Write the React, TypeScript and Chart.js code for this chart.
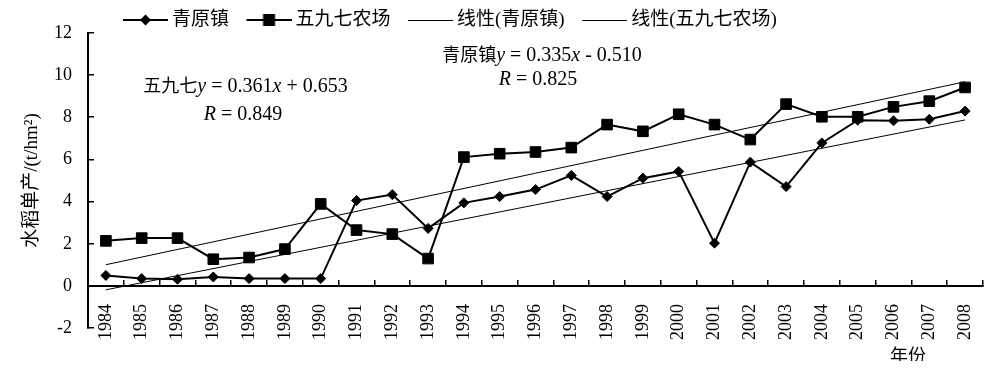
import React, { useEffect, useRef } from 'react';
import { Chart, registerables } from 'chart.js';

Chart.register(...registerables);

// ---- data ----
const years = ['1984', '1985', '1986', '1987', '1988', '1989', '1990', '1991', '1992', '1993', '1994', '1995', '1996', '1997', '1998', '1999', '2000', '2001', '2002', '2003', '2004', '2005', '2006', '2007', '2008'];
const qingyuan = [0.5, 0.35, 0.32, 0.43, 0.35, 0.35, 0.35, 4.05, 4.33, 2.73, 3.94, 4.24, 4.57, 5.24, 4.24, 5.11, 5.43, 2.03, 5.87, 4.71, 6.78, 7.86, 7.83, 7.9, 8.29];
const wujiuqi = [2.14, 2.27, 2.27, 1.27, 1.35, 1.75, 3.89, 2.65, 2.46, 1.3, 6.11, 6.27, 6.35, 6.56, 7.65, 7.33, 8.14, 7.65, 6.94, 8.62, 8.02, 8.02, 8.49, 8.76, 9.41];
// trend line end values (at first and last year)
const trendYears = ['1984', '2008'];
const trendQingyuan = [-0.18, 7.87];
const trendWujiuqi = [1.01, 9.68];
const seriesLabels = ['青原镇', '五九七农场', '线性(青原镇)', '线性(五九七农场)'];
const yTicks = { min: -2, max: 12, step: 2 };
const yTitle = '水稻单产/(t/hm²)';
const xTitle = '年份';
const eqWujiuqi = ['五九七', 'y', ' = 0.361', 'x', ' + 0.653'];
const rWujiuqi = ['R', ' = 0.849'];
const eqQingyuan = ['青原镇', 'y', ' = 0.335', 'x', ' - 0.510'];
const rQingyuan = ['R', ' = 0.825'];

const SERIF = "'Liberation Serif', 'Noto Sans CJK SC', serif";
const CJK = "'Noto Sans CJK SC', sans-serif";

function makeIcon(kind: string): HTMLCanvasElement {
  const c = document.createElement('canvas');
  c.width = 66;
  c.height = 20;
  const g = c.getContext('2d')!;
  g.strokeStyle = '#000';
  g.fillStyle = '#000';
  g.lineWidth = kind === 'line' ? 1 : 2;
  const y = kind === 'line' ? 10.5 : 10;
  g.beginPath();
  g.moveTo(21, y);
  g.lineTo(66, y);
  g.stroke();
  const cx = 43.5;
  if (kind === 'diamond') {
    g.beginPath();
    g.moveTo(cx - 5.5, 10);
    g.lineTo(cx, 4.5);
    g.lineTo(cx + 5.5, 10);
    g.lineTo(cx, 15.5);
    g.closePath();
    g.fill();
  } else if (kind === 'square') {
    g.fillRect(cx - 6, 4, 12, 12);
  }
  return c;
}

function drawRich(ctx: CanvasRenderingContext2D, parts: string[], fonts: string[], cx: number, baseline: number) {
  let total = 0;
  const widths: number[] = [];
  parts.forEach((p, i) => {
    ctx.font = fonts[i];
    const w = ctx.measureText(p).width;
    widths.push(w);
    total += w;
  });
  let x = cx - total / 2;
  ctx.textAlign = 'left';
  ctx.textBaseline = 'alphabetic';
  parts.forEach((p, i) => {
    ctx.font = fonts[i];
    ctx.fillText(p, x, baseline);
    x += widths[i];
  });
}

const textPlugin = {
  id: 'annotText',
  afterDraw(chart: any) {
    const ctx: CanvasRenderingContext2D = chart.ctx;
    ctx.save();
    ctx.fillStyle = '#000';
    const cjk = `18px ${CJK}`;
    const it = `italic 20px 'Liberation Serif', serif`;
    const rm = `20px 'Liberation Serif', serif`;
    const eqFonts = [cjk, it, rm, it, rm];
    drawRich(ctx, eqWujiuqi, eqFonts, 237.5, 92);
    drawRich(ctx, rWujiuqi, [it, rm], 235, 120);
    drawRich(ctx, eqQingyuan, eqFonts, 534, 61);
    drawRich(ctx, rQingyuan, [it, rm], 530, 85);
    ctx.font = `18px ${CJK}`;
    ctx.textAlign = 'center';
    ctx.textBaseline = 'middle';
    ctx.fillText(xTitle, 900, 355);
    ctx.restore();
  },
};

const legendShift = {
  id: 'legendShift',
  afterLayout(chart: any) {
    const lg = chart.legend;
    if (!lg) return;
    const dx = 97.5 - lg.left;
    lg.left += dx;
    lg.right += dx;
    const dy = 8.5 - lg.top;
    lg.top += dy;
    lg.bottom += dy;
  },
};

export default function App() {
  const ref = useRef<HTMLCanvasElement>(null);

  useEffect(() => {
    const icons = [makeIcon('diamond'), makeIcon('square'), makeIcon('line'), makeIcon('line')];
    const chart = new Chart(ref.current!, {
      type: 'line',
      data: {
        labels: years,
        datasets: [
          {
            label: seriesLabels[0],
            data: qingyuan,
            borderColor: '#000',
            backgroundColor: '#000',
            borderWidth: 2,
            pointStyle: 'rectRot',
            pointRadius: 5,
            pointBorderWidth: 1,
            pointBackgroundColor: '#000',
            pointBorderColor: '#000',
            tension: 0,
          },
          {
            label: seriesLabels[1],
            data: wujiuqi,
            borderColor: '#000',
            backgroundColor: '#000',
            borderWidth: 2,
            pointStyle: 'rect',
            pointRadius: 7.5,
            pointBorderWidth: 1,
            pointBackgroundColor: '#000',
            pointBorderColor: '#000',
            tension: 0,
          },
          {
            label: seriesLabels[2],
            data: trendYears.map((y, i) => ({ x: y, y: trendQingyuan[i] })),
            borderColor: '#000',
            borderWidth: 1,
            pointRadius: 0,
            tension: 0,
          },
          {
            label: seriesLabels[3],
            data: trendYears.map((y, i) => ({ x: y, y: trendWujiuqi[i] })),
            borderColor: '#000',
            borderWidth: 1,
            pointRadius: 0,
            tension: 0,
          },
        ] as any,
      },
      options: {
        animation: false,
        responsive: true,
        maintainAspectRatio: false,
        events: [],
        layout: { padding: { top: 0, right: 9, bottom: 0, left: 0 } },
        plugins: {
          tooltip: { enabled: false },
          legend: {
            position: 'top',
            align: 'start',
            labels: {
              usePointStyle: true,
              pointStyleWidth: 55,
              padding: 2,
              color: '#000',
              font: { family: SERIF, size: 19 },
              generateLabels: (ch: any) =>
                ch.data.datasets.map((ds: any, i: number) => ({
                  text: ds.label,
                  pointStyle: icons[i],
                  fillStyle: 'transparent',
                  strokeStyle: 'transparent',
                  lineWidth: 0,
                  hidden: false,
                  datasetIndex: i,
                  fontColor: '#000',
                })),
            },
          },
        },
        scales: {
          x: {
            type: 'category',
            offset: true,
            position: { y: 0 } as any,
            afterFit: (s: any) => {
              s.height = 41;
              s.paddingLeft = 0;
              s.paddingRight = 0;
            },
            grid: {
              offset: true,
              drawOnChartArea: false,
              drawTicks: true,
              tickLength: -7,
              color: '#000',
              lineWidth: 1.5,
            },
            border: { display: true, color: '#000', width: 2 },
            ticks: {
              autoSkip: false,
              minRotation: 90,
              maxRotation: 90,
              padding: 25,
              color: '#000',
              font: { family: SERIF, size: 18 },
            },
          },
          y: {
            min: yTicks.min,
            max: yTicks.max,
            afterFit: (s: any) => {
              s.width = 80;
            },
            ticks: {
              stepSize: yTicks.step,
              padding: 22,
              color: '#000',
              font: { family: SERIF, size: 18 },
            },
            grid: {
              drawOnChartArea: false,
              drawTicks: true,
              tickLength: -6,
              color: '#000',
              lineWidth: 1.5,
            },
            border: { display: true, color: '#000', width: 2 },
            title: {
              display: true,
              text: yTitle,
              color: '#000',
              font: { family: SERIF, size: 19 },
              padding: { top: 13, bottom: 0 },
            },
          },
        },
      },
      plugins: [textPlugin, legendShift],
    } as any);
    return () => chart.destroy();
  }, []);

  return (
    <div style={{ position: 'relative', width: '984px', height: '361px', marginTop: '-8px' }}>
      <canvas ref={ref} />
    </div>
  );
}
